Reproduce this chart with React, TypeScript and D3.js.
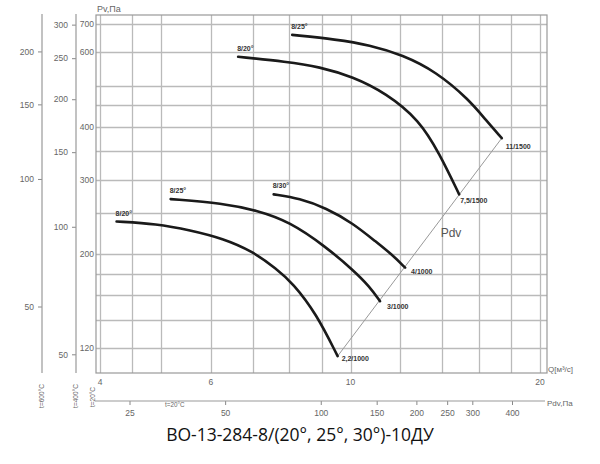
import React, { useEffect, useRef } from 'react';
import * as d3 from 'd3';

// grid + ticks
const qTicks = [4, 6, 10, 20];
const qGrid = [4, 4.5, 5, 6, 7, 8, 9, 10, 12, 14, 16, 18, 20];
const pTicks = [120, 200, 300, 400, 600, 700];
const pGrid = [120, 140, 160, 180, 200, 250, 300, 350, 400, 450, 500, 600, 700];
const p600Ticks = [50, 100, 150, 200];
const p400Ticks = [50, 100, 150, 200, 250, 300];
const pdvTicks = [25, 50, 100, 150, 200, 250, 300, 400];

// curves: Q [m3/s] and Pv [Pa]
const q20_1000 = [4.25, 4.92, 5.56, 6.27, 7.0, 7.62, 8.1, 8.82, 9.54];
const p20_1000 = [239, 236, 228, 218, 203, 185, 171, 145, 115];
const q25_1000 = [5.18, 6.27, 7.09, 8.0, 9.15, 10.08, 10.72, 11.14];
const p25_1000 = [270, 264, 254, 239, 208, 184, 168, 155];
const q30_1000 = [7.55, 8.3, 9.15, 10.08, 10.98, 11.67, 12.21];
const p30_1000 = [277, 271, 257, 237, 214, 199, 186];
const q20_1500 = [6.63, 7.91, 8.93, 10.08, 11.39, 12.86, 13.84, 14.88];
const p20_1500 = [585, 570, 554, 525, 480, 415, 346, 277];
const q25_1500 = [8.08, 9.49, 10.72, 12.1, 13.67, 15.44, 16.4, 17.39];
const p25_1500 = [659, 643, 624, 591, 540, 463, 415, 376];

const curveNames = ['8/20°', '8/25°', '8/30°', '8/20°', '8/25°'];
const curveEnds = ['2,2/1000', '3/1000', '4/1000', '7,5/1500', '11/1500'];

// Pdv line (system characteristic)
const pdvQ = [9.54, 17.39];
const pdvP = [115, 376];

const App: React.FC = () => {
  const svgRef = useRef<SVGSVGElement>(null);

  useEffect(() => {
    const svg = d3.select(svgRef.current);
    svg.selectAll('*').remove();

    const frame = { left: 96, right: 547, top: 15, bottom: 373 };
    const x = d3.scaleLog().domain([4, 20]).range([100, 540]);
    const y = d3.scaleLog().domain([120, 700]).range([348.3, 23.8]);
    const k600 = 0.332;
    const k400 = 0.4305;
    const y600 = d3.scaleLog().domain([120 * k600, 700 * k600]).range(y.range());
    const y400 = d3.scaleLog().domain([120 * k400, 700 * k400]).range(y.range());
    const xPdv = d3.scaleLog().domain([25, 400]).range([129.5, 512]);

    const font = "'Liberation Sans', Arial, sans-serif";
    const tickColor = '#666';
    const gridColor = '#bababa';

    // grid
    const grid = svg.append('g').attr('class', 'grid');
    qGrid.forEach((q) => {
      const px = Math.round(x(q)) + 0.5;
      grid.append('line')
        .attr('x1', px).attr('x2', px)
        .attr('y1', frame.top).attr('y2', frame.bottom)
        .attr('stroke', gridColor).attr('stroke-width', 1.3);
    });
    pGrid.forEach((p) => {
      const py = Math.round(y(p)) + 0.5;
      grid.append('line')
        .attr('x1', frame.left).attr('x2', frame.right)
        .attr('y1', py).attr('y2', py)
        .attr('stroke', gridColor).attr('stroke-width', 1.3);
    });

    svg.append('rect')
      .attr('x', frame.left).attr('y', frame.top)
      .attr('width', frame.right - frame.left).attr('height', frame.bottom - frame.top)
      .attr('fill', 'none').attr('stroke', '#999').attr('stroke-width', 1.2);

    // main Y labels
    svg.append('g').selectAll('text').data(pTicks).join('text')
      .attr('x', 94).attr('y', (d) => y(d) + 3)
      .attr('text-anchor', 'end')
      .attr('font-family', font).attr('font-size', 8.5).attr('fill', tickColor)
      .text((d) => d);

    svg.append('text').attr('x', 97).attr('y', 12)
      .attr('font-family', font).attr('font-size', 9).attr('fill', tickColor)
      .text('Pv,Па');

    // aux axes
    const aux = [
      { scale: y600, ticks: p600Ticks, at: 42, name: 't=600°C' },
      { scale: y400, ticks: p400Ticks, at: 76, name: 't=400°C' },
    ];
    aux.forEach((a) => {
      const g = svg.append('g').attr('transform', `translate(${a.at},0)`);
      g.call(d3.axisLeft(a.scale).tickValues(a.ticks).tickSize(4).tickFormat(d3.format('d')));
      g.select('.domain').remove();
      g.selectAll('line').attr('stroke', '#888');
      g.selectAll('text').attr('font-family', font).attr('font-size', 8.5).attr('fill', tickColor).attr('dx', -1);
      g.append('line').attr('y1', frame.top - 1).attr('y2', frame.bottom).attr('stroke', '#999').attr('stroke-width', 1.2);
      svg.append('text')
        .attr('transform', `translate(${a.at + 2},${396}) rotate(-90)`)
        .attr('text-anchor', 'middle')
        .attr('font-family', font).attr('font-size', 6.5).attr('fill', tickColor)
        .text(a.name);
    });
    svg.append('text')
      .attr('transform', `translate(95,${397}) rotate(-90)`)
      .attr('text-anchor', 'middle')
      .attr('font-family', font).attr('font-size', 6.5).attr('fill', tickColor)
      .text('t=20°C');

    // X labels
    svg.append('g').selectAll('text').data(qTicks).join('text')
      .attr('x', (d) => x(d)).attr('y', 385)
      .attr('text-anchor', 'middle')
      .attr('font-family', font).attr('font-size', 8.5).attr('fill', tickColor)
      .text((d) => d);
    svg.append('text').attr('x', 548).attr('y', 372)
      .attr('font-family', font).attr('font-size', 8).attr('fill', tickColor)
      .text('Q[м³/с]');

    // Pdv axis
    const pdvAxis = svg.append('g').attr('transform', 'translate(0,401)');
    pdvAxis.call(d3.axisBottom(xPdv).tickValues(pdvTicks).tickSize(4).tickFormat(d3.format('d')));
    pdvAxis.select('.domain').remove();
    pdvAxis.selectAll('line').attr('stroke', '#888');
    pdvAxis.selectAll('text').attr('font-family', font).attr('font-size', 8.5).attr('fill', tickColor).attr('dy', '0.9em');
    pdvAxis.append('line').attr('x1', 95).attr('x2', 545).attr('stroke', '#999').attr('stroke-width', 1.2);
    svg.append('text').attr('x', 547).attr('y', 406)
      .attr('font-family', font).attr('font-size', 8).attr('fill', tickColor)
      .text('Pdv,Па');
    svg.append('text').attr('x', 165).attr('y', 407)
      .attr('font-family', font).attr('font-size', 6.3).attr('fill', tickColor)
      .text('t=20°C');

    // Pdv line
    const pdvLine = d3.line<number>()
      .x((q) => x(q))
      .y((_, i) => y(pdvP[i]));
    svg.append('path').attr('d', pdvLine(pdvQ))
      .attr('fill', 'none').attr('stroke', '#999').attr('stroke-width', 1);
    svg.append('text')
      .attr('x', x(pdvQ[0]) + 103).attr('y', y(pdvP[0]) - 119)
      .attr('font-family', font).attr('font-size', 12).attr('fill', '#555')
      .text('Pdv');

    // curves
    const series = [
      [q20_1000, p20_1000],
      [q25_1000, p25_1000],
      [q30_1000, p30_1000],
      [q20_1500, p20_1500],
      [q25_1500, p25_1500],
    ];
    const endOffset = [[4, 5], [7, 8], [6, 6.5], [1, 8.5], [4, 11]];
    const line = d3.line<[number, number]>()
      .x((d) => x(d[0]))
      .y((d) => y(d[1]))
      .curve(d3.curveBasis);

    series.forEach(([qs, ps], i) => {
      const pts = qs.map((q, j) => [q, ps[j]] as [number, number]);
      svg.append('path').attr('d', line(pts))
        .attr('fill', 'none').attr('stroke', '#1a1a1a').attr('stroke-width', 2.6)
        .attr('stroke-linecap', 'round');
      svg.append('text')
        .attr('x', x(qs[0]) - 1).attr('y', y(ps[0]) - 6)
        .attr('font-family', font).attr('font-size', 7).attr('font-weight', 'bold').attr('fill', '#333')
        .text(curveNames[i]);
      const last = qs.length - 1;
      svg.append('text')
        .attr('x', x(qs[last]) + endOffset[i][0]).attr('y', y(ps[last]) + endOffset[i][1])
        .attr('font-family', font).attr('font-size', 7).attr('font-weight', 'bold').attr('fill', '#333')
        .text(curveEnds[i]);
    });

    svg.append('text').attr('x', 300).attr('y', 441)
      .attr('text-anchor', 'middle')
      .attr('font-family', "'Open Sans', 'Noto Sans', sans-serif").attr('font-size', 17.5).attr('fill', '#111')
      .text('ВО-13-284-8/(20°, 25°, 30°)-10ДУ');

    return () => {
      svg.selectAll('*').remove();
    };
  }, []);

  return (
    <svg ref={svgRef} width={600} height={464}
      style={{ position: 'absolute', left: 0, top: 0, background: '#fff' }}></svg>
  );
};

export default App;
